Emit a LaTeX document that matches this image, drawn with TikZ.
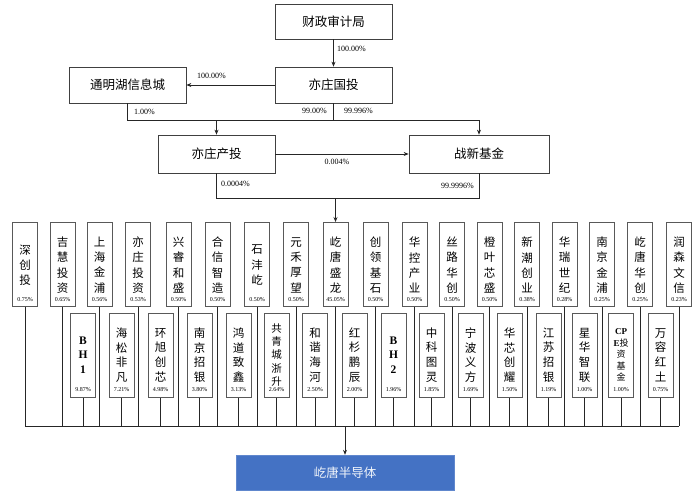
\documentclass[tikz,border=0pt]{standalone}
\usepackage{fontspec}
\setmainfont{Liberation Serif}
\newfontfamily\cjk{Noto Sans CJK SC}
\usetikzlibrary{arrows.meta}
\definecolor{boxblue}{HTML}{4472C4}
\definecolor{lncol}{HTML}{262626}
\newcommand\topbx[4]{%
  \node[tbox] (#1) at (#2,222) {};
  \node[chars] (#1c) at (#2,265) {#3};
  \node[pct] (#1p) at (#2,300) {#4};}
\newcommand\botbx[5]{%
  \node[bbox] (#1) at (#2,313) {};
  \node[chars,bchars,#5] (#1c) at (#2,355) {#3};
  \node[pct] (#1p) at (#2,390) {#4};}
\begin{document}
\begin{tikzpicture}[x=1pt,y=-1pt,
  mbox/.style={draw=black!75,line width=0.7pt,minimum width=117pt,minimum height=36pt,inner sep=0pt,font=\cjk\fontsize{12.5}{14}\selectfont},
  sbox/.style={draw=black!65,line width=0.6pt,minimum width=25pt,inner sep=0pt,anchor=north},
  tbox/.style={sbox,minimum height=84pt},
  bbox/.style={sbox,minimum height=84pt},
  chars/.style={inner sep=0pt,align=center,font=\cjk\fontsize{11.5}{15.3}\selectfont},
  bchars/.style={font=\cjk\fontsize{11.5}{14.7}\selectfont},
  five/.style={font=\cjk\fontsize{10.5}{13.3}\selectfont},
  latin/.style={font=\bfseries\fontsize{11.5}{14.5}\selectfont},
  cpe/.style={font=\cjk\fontsize{9}{11.5}\selectfont},
  pct/.style={inner sep=0pt,font=\fontsize{6}{6.5}\selectfont},
  lbl/.style={inner sep=0pt,font=\fontsize{8}{9}\selectfont},
  ln/.style={draw=lncol,line width=0.7pt},
  arr/.style={ln,-{Stealth[length=5pt,width=4pt]}}]
\useasboundingbox (0,0) rectangle (700,496);

% upper structure
\node[mbox,minimum height=35pt] (czsj) at (333.5,21.5) {财政审计局};
\node[mbox] (yzgt) at (333.5,85) {亦庄国投};
\node[mbox] (tmh) at (127.5,85) {通明湖信息城};
\node[mbox,minimum height=38pt] (yzct) at (216.5,154) {亦庄产投};
\node[mbox,minimum height=38pt,minimum width=140pt] (zxjj) at (479,154) {战新基金};

\draw[arr] (czsj.south) -- (yzgt.north);
\node[lbl,anchor=west] (l1) at (337,49) {100.00\%};
\draw[arr] (yzgt.west) -- (tmh.east);
\node[lbl,anchor=west] (l2) at (197,76) {100.00\%};

\coordinate (h1) at (333.5,120);
\draw[ln] (tmh.south) |- (h1);
\draw[ln] (yzgt.south) -- (h1);
\draw[arr] (h1) -| (yzct.north);
\draw[arr] (h1) -| (zxjj.north);
\node[lbl,anchor=west] (l3) at (134,112) {1.00\%};
\node[lbl,anchor=east] (l4) at (327,111) {99.00\%};
\node[lbl,anchor=west] (l5) at (344,111) {99.996\%};

\draw[arr] (yzct.east) -- (zxjj.west);
\node[lbl] (l6) at (337,162) {0.004\%};

\coordinate (h2) at (335.5,198);
\draw[ln] (yzct.south) |- (h2);
\draw[ln] (zxjj.south) |- (h2);
\node[lbl,anchor=west] (l7) at (221,183.5) {0.0004\%};
\node[lbl,anchor=east] (l8) at (474,186) {99.9996\%};

% top row of shareholders
\topbx{t1}{25}{深\\创\\投}{0.75\%}
\topbx{t2}{62.5}{吉\\慧\\投\\资}{0.65\%}
\topbx{t3}{99.5}{上\\海\\金\\浦}{0.56\%}
\topbx{t4}{138}{亦\\庄\\投\\资}{0.53\%}
\topbx{t5}{178.5}{兴\\睿\\和\\盛}{0.50\%}
\topbx{t6}{217.5}{合\\信\\智\\造}{0.50\%}
\topbx{t7}{257}{石\\沣\\屹}{0.50\%}
\topbx{t8}{296}{元\\禾\\厚\\望}{0.50\%}
\topbx{t9}{335.5}{屹\\唐\\盛\\龙}{45.05\%}
\topbx{t10}{375.5}{创\\领\\基\\石}{0.50\%}
\topbx{t11}{414.5}{华\\控\\产\\业}{0.50\%}
\topbx{t12}{452}{丝\\路\\华\\创}{0.50\%}
\topbx{t13}{489.5}{橙\\叶\\芯\\盛}{0.50\%}
\topbx{t14}{527}{新\\潮\\创\\业}{0.38\%}
\topbx{t15}{564.5}{华\\瑞\\世\\纪}{0.28\%}
\topbx{t16}{602}{南\\京\\金\\浦}{0.25\%}
\topbx{t17}{640}{屹\\唐\\华\\创}{0.25\%}
\topbx{t18}{679}{润\\森\\文\\信}{0.23\%}

\draw[arr] (h2) -- (t9.north);

% bottom row of shareholders
\botbx{b1}{83}{B\\H\\1}{9.87\%}{latin}
\botbx{b2}{121.5}{海\\松\\非\\凡}{7.21\%}{}
\botbx{b3}{160.5}{环\\旭\\创\\芯}{4.98\%}{}
\botbx{b4}{199.5}{南\\京\\招\\银}{3.80\%}{}
\botbx{b5}{238.5}{鸿\\道\\致\\鑫}{3.13\%}{}
\botbx{b6}{276.5}{共\\青\\城\\浙\\升}{2.64\%}{five}
\botbx{b7}{315}{和\\谐\\海\\河}{2.50\%}{}
\botbx{b8}{354.5}{红\\杉\\鹏\\辰}{2.00\%}{}
\botbx{b9}{393.5}{B\\H\\2}{1.96\%}{latin}
\botbx{b10}{431.5}{中\\科\\图\\灵}{1.85\%}{}
\botbx{b11}{470.5}{宁\\波\\义\\方}{1.69\%}{}
\botbx{b12}{509.5}{华\\芯\\创\\耀}{1.50\%}{}
\botbx{b13}{548.5}{江\\苏\\招\\银}{1.19\%}{}
\botbx{b14}{584.5}{星\\华\\智\\联}{1.00\%}{}
\botbx{b15}{621}{{\rmfamily\bfseries CP}\\{\rmfamily\bfseries E}投\\资\\基\\金}{1.00\%}{cpe}
\botbx{b16}{660.5}{万\\容\\红\\土}{0.75\%}{}

% collecting bus
\coordinate (h3) at (345,426);
\foreach \i in {1,...,18} {\draw[ln] (t\i.south) -- (t\i.south |- h3);}
\foreach \i in {1,...,16} {\draw[ln] (b\i.south) -- (b\i.south |- h3);}
\draw[ln] (t1.south |- h3) -- (t18.south |- h3);

\node[draw=boxblue!85!white,fill=boxblue,minimum width=218pt,minimum height=35pt,inner sep=0pt,text=white!92!boxblue,font=\cjk\fontsize{12.5}{14}\selectfont] (ytbd) at (345,472.5) {屹唐半导体};
\draw[arr] (h3) -- (ytbd.north);
\end{tikzpicture}
\end{document}
